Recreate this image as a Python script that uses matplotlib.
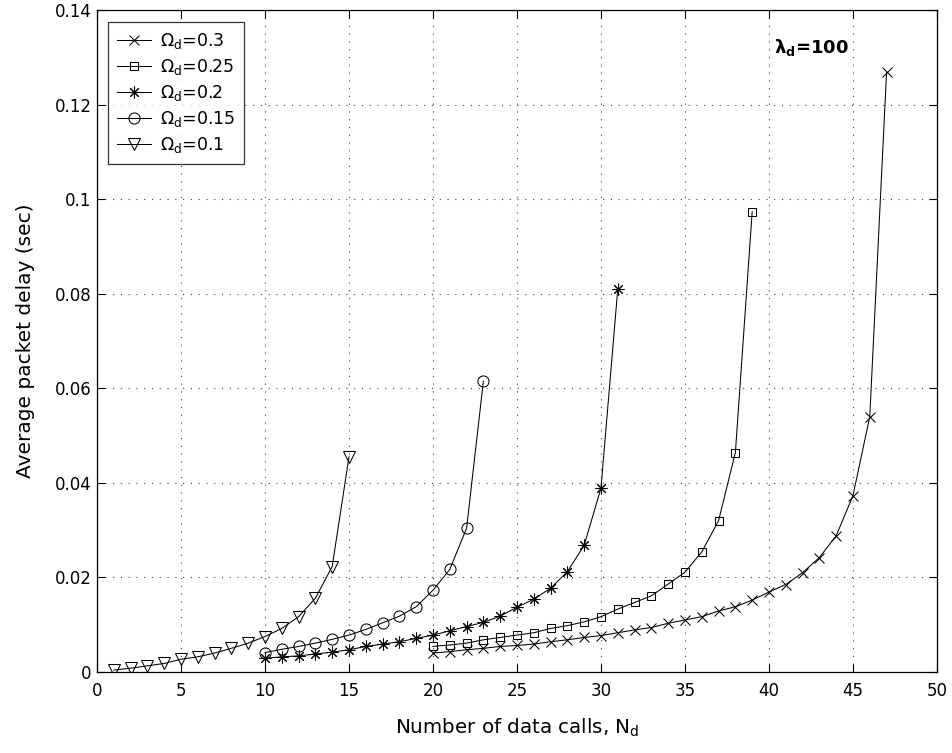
import matplotlib
matplotlib.use("Agg")
import matplotlib.pyplot as plt
from matplotlib.ticker import MultipleLocator

plt.rcParams['font.family'] = ['DejaVu Sans']
plt.rcParams['mathtext.fontset'] = 'dejavusans'

# Average packet delay (sec) vs number of data calls, per data-channel share
n_01 = list(range(1, 16))
d_01 = [0.0004, 0.0008, 0.0013, 0.0018, 0.0027, 0.0032, 0.0040, 0.0050,
        0.0061, 0.0075, 0.0092, 0.0117, 0.0156, 0.0223, 0.0455]

n_015 = list(range(10, 24))
d_015 = [0.0041, 0.0048, 0.0054, 0.0061, 0.0069, 0.0078, 0.0090, 0.0104,
         0.0118, 0.0138, 0.0173, 0.0217, 0.0304, 0.0615]

n_02 = list(range(10, 32))
d_02 = [0.0029, 0.0032, 0.0034, 0.0038, 0.0042, 0.0047, 0.0054, 0.0059,
        0.0064, 0.0071, 0.0078, 0.0087, 0.0096, 0.0105, 0.0118, 0.0137,
        0.0154, 0.0177, 0.0212, 0.0268, 0.0389, 0.0810]

n_025 = list(range(20, 40))
d_025 = [0.0054, 0.0057, 0.0061, 0.0068, 0.0073, 0.0078, 0.0083, 0.0092,
         0.0098, 0.0106, 0.0117, 0.0133, 0.0147, 0.0161, 0.0186, 0.0211,
         0.0254, 0.0320, 0.0464, 0.0973]

n_03 = list(range(20, 48))
d_03 = [0.0040, 0.0043, 0.0047, 0.0050, 0.0054, 0.0056, 0.0059, 0.0064,
        0.0068, 0.0073, 0.0077, 0.0083, 0.0089, 0.0094, 0.0103, 0.0110,
        0.0117, 0.0129, 0.0138, 0.0152, 0.0169, 0.0185, 0.0210, 0.0242,
        0.0288, 0.0373, 0.0540, 0.1268]

labels = [r'$\Omega_\mathrm{d}$=0.3', r'$\Omega_\mathrm{d}$=0.25',
          r'$\Omega_\mathrm{d}$=0.2', r'$\Omega_\mathrm{d}$=0.15',
          r'$\Omega_\mathrm{d}$=0.1']

y_ticks = [0, 0.02, 0.04, 0.06, 0.08, 0.1, 0.12, 0.14]
y_tick_labels = ['0', '0.02', '0.04', '0.06', '0.08', '0.1', '0.12', '0.14']

fig = plt.figure(figsize=(9.52, 7.53), dpi=100)
ax = fig.add_axes([0.1019, 0.1076, 0.8823, 0.8791])

style = dict(color='black', lw=0.75, mfc='none', mec='black', mew=0.75)
ax.plot(n_03, d_03, marker='x', ms=6.5, label=labels[0], **style)
ax.plot(n_025, d_025, marker='s', ms=6.2, label=labels[1], **style)
ax.plot(n_02, d_02, marker=(8, 2, 0), ms=8.5, label=labels[2], **style)
ax.plot(n_015, d_015, marker='o', ms=8, label=labels[3], **style)
ax.plot(n_01, d_01, marker='v', ms=8.5, label=labels[4], **style)

ax.set_xlim(0, 50)
ax.set_ylim(0, 0.14)
ax.xaxis.set_major_locator(MultipleLocator(5))
ax.set_yticks(y_ticks)
ax.set_yticklabels(y_tick_labels)
ax.tick_params(direction='in', top=True, right=True, length=6, width=0.8,
               labelsize=12)
ax.tick_params(axis='x', pad=7)
ax.tick_params(axis='y', pad=4)
ax.grid(True, color='0.25', linestyle=(0, (1, 6)), linewidth=0.8)
for sp in ax.spines.values():
    sp.set_linewidth(0.9)

ax.set_xlabel(r'Number of data calls, N$_\mathrm{d}$', fontsize=14.3,
              labelpad=12)
ax.set_ylabel('Average packet delay (sec)', fontsize=14.5, labelpad=14)

ax.text(42.5, 0.1321, r'$\mathbf{\lambda_d}$=100', fontsize=13,
        fontweight='bold', ha='center', va='center')

leg = ax.legend(loc='upper left', bbox_to_anchor=(0.013, 0.982), fontsize=12.5,
                frameon=True, fancybox=False, edgecolor='black',
                handlelength=2.0, handletextpad=0.5, labelspacing=0.35,
                borderpad=0.5, borderaxespad=0)
leg.get_frame().set_linewidth(0.9)

fig.savefig('out.png', dpi=100)
